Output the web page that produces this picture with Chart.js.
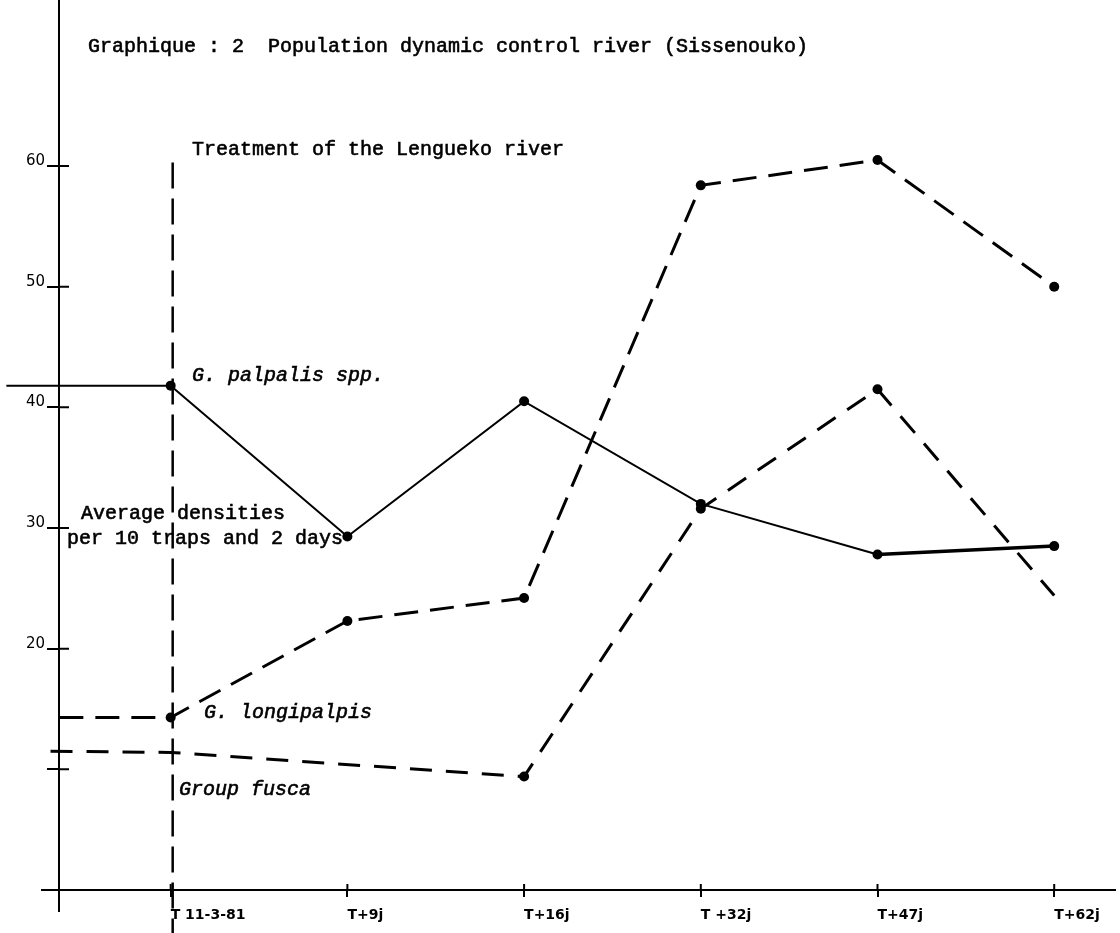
<!DOCTYPE html>
<html>
<head>
<meta charset="utf-8">
<script src="https://cdn.jsdelivr.net/npm/chart.js@4"></script>
<style>
  html, body { margin: 0; padding: 0; background: #fff; }
</style>
</head>
<body>
<canvas id="chart" width="1120" height="933"></canvas>
<script>
// sampling dates (drawn equally spaced on the sheet)
const periods = ['T 11-3-81', 'T+9j', 'T+16j', 'T +32j', 'T+47j', 'T+62j'];

// average densities per 10 traps and 2 days
const palpalis    = [41.8, 29.3, 40.5, 32.0, 27.8, 28.5];
const longipalpis = [14.3, 22.3, 24.2, 58.4, 60.5, 50.0];
const fusca       = [11.4, null, 9.4, 31.6, 41.5, 24.4];

// level before the treatment (line coming in from the left)
const palpalisBefore = 41.8;
const longipalpisBefore = 14.3;
const fuscaBefore = 11.5;

// which fusca readings got a dot on the sheet
const fuscaDots = [false, false, true, true, true, false];

const yTicks = [10, 20, 30, 40, 50, 60];
const yTickLabels = ['', '20', '30', '40', '50', '60'];

const mono = '"Liberation Mono", "Courier New", monospace';

// text typed on the sheet (pixel positions)
const notes = [
  { text: 'Graphique : 2  Population dynamic control river (Sissenouko)', x: 88, y: 47 },
  { text: 'Treatment of the Lengueko river', x: 192, y: 150 },
  { text: 'G. palpalis spp.', x: 192, y: 376, italic: true },
  { text: 'Average densities', x: 81, y: 514 },
  { text: 'per 10 traps and 2 days', x: 67, y: 539 },
  { text: 'G. longipalpis', x: 204, y: 713, italic: true },
  { text: 'Group fusca', x: 179, y: 790, italic: true }
];

function series(before, startX, values) {
  const pts = [{ x: startX, y: before }];
  values.forEach((v, i) => pts.push({ x: i, y: v }));
  return pts;
}

const sheet = {
  id: 'sheet',
  afterDraw(chart) {
    const { ctx, scales: { x, y }, chartArea } = chart;
    ctx.save();
    ctx.strokeStyle = '#000';
    ctx.lineWidth = 2;

    // tick marks cross the axes
    ctx.beginPath();
    yTicks.forEach(v => {
      const py = y.getPixelForValue(v);
      ctx.moveTo(chartArea.left, py);
      ctx.lineTo(chartArea.left + 10, py);
    });
    periods.forEach((p, i) => {
      const px = x.getPixelForValue(i);
      ctx.moveTo(px, chartArea.bottom);
      ctx.lineTo(px, chartArea.bottom - 6);
    });
    // axes run a little past the corner and up to the top of the sheet
    ctx.moveTo(chartArea.left, 0);
    ctx.lineTo(chartArea.left, chartArea.bottom + 22);
    ctx.moveTo(chartArea.left, chartArea.bottom);
    ctx.lineTo(chartArea.left - 18, chartArea.bottom);
    ctx.stroke();

    // treatment date
    ctx.beginPath();
    ctx.setLineDash([26, 10]);
    ctx.lineWidth = 2.5;
    const tx = x.getPixelForValue(0) + 2;
    ctx.moveTo(tx, y.getPixelForValue(60.3));
    ctx.lineTo(tx, chart.height);
    ctx.stroke();
    ctx.setLineDash([]);

    ctx.fillStyle = '#000';
    ctx.textBaseline = 'middle';
    ctx.textAlign = 'left';
    ctx.lineWidth = 0.6;
    notes.forEach(n => {
      ctx.font = (n.italic ? 'italic ' : '') + '20px ' + mono;
      ctx.fillText(n.text, n.x, n.y);
      ctx.strokeText(n.text, n.x, n.y);
    });
    ctx.restore();
  }
};

new Chart(document.getElementById('chart'), {
  type: 'line',
  data: {
    datasets: [
      {
        label: 'G. palpalis spp.',
        data: series(palpalisBefore, -0.93, palpalis),
        borderColor: '#000',
        backgroundColor: '#000',
        borderWidth: 2,
        segment: { borderWidth: ctx => ctx.p1DataIndex === 6 ? 3.5 : 2 },
        pointRadius: ctx => ctx.dataIndex === 0 ? 0 : 5,
        pointBorderWidth: 0,
        tension: 0,
        clip: false
      },
      {
        label: 'G. longipalpis',
        data: series(longipalpisBefore, -0.63, longipalpis),
        borderColor: '#000',
        backgroundColor: '#000',
        borderWidth: 3,
        borderDash: [24, 12],
        pointRadius: ctx => ctx.dataIndex === 0 ? 0 : 5,
        pointBorderWidth: 0,
        tension: 0,
        clip: false
      },
      {
        label: 'Group fusca',
        data: series(fuscaBefore, -0.68, fusca),
        borderColor: '#000',
        backgroundColor: '#000',
        borderWidth: 3,
        borderDash: [22, 14],
        pointRadius: ctx => (ctx.dataIndex > 0 && fuscaDots[ctx.dataIndex - 1]) ? 5 : 0,
        pointBorderWidth: 0,
        spanGaps: true,
        tension: 0,
        clip: false
      }
    ]
  },
  options: {
    responsive: false,
    animation: false,
    layout: { padding: { top: 2, right: 2, left: 0, bottom: 0 } },
    plugins: {
      legend: { display: false },
      title: { display: false },
      tooltip: { enabled: false }
    },
    scales: {
      x: {
        type: 'linear',
        min: -0.632,
        max: 5.344,
        afterBuildTicks: s => { s.ticks = periods.map((p, i) => ({ value: i })); },
        afterFit: s => { s.height = 43; },
        ticks: {
          callback: v => periods[v] ?? '',
          align: 'start',
          padding: 10,
          autoSkip: false,
          maxRotation: 0,
          color: '#000',
          font: { family: '"DejaVu Sans", sans-serif', size: 14, weight: 'bold' }
        },
        grid: { drawOnChartArea: false, drawTicks: true, tickLength: 7, color: '#000', lineWidth: 2 },
        border: { color: '#000', width: 2 }
      },
      y: {
        type: 'linear',
        min: 0,
        max: 72.85,
        afterBuildTicks: s => { s.ticks = yTicks.map(v => ({ value: v })); },
        afterFit: s => { s.width = 59; },
        ticks: {
          callback: (v, i) => yTickLabels[i],
          padding: 2,
          labelOffset: -5,
          color: '#000',
          font: { family: '"DejaVu Sans", sans-serif', size: 15 }
        },
        grid: { drawOnChartArea: false, drawTicks: true, tickLength: 12, color: '#000', lineWidth: 2 },
        border: { color: '#000', width: 2 }
      }
    }
  },
  plugins: [sheet]
});
</script>
</body>
</html>
